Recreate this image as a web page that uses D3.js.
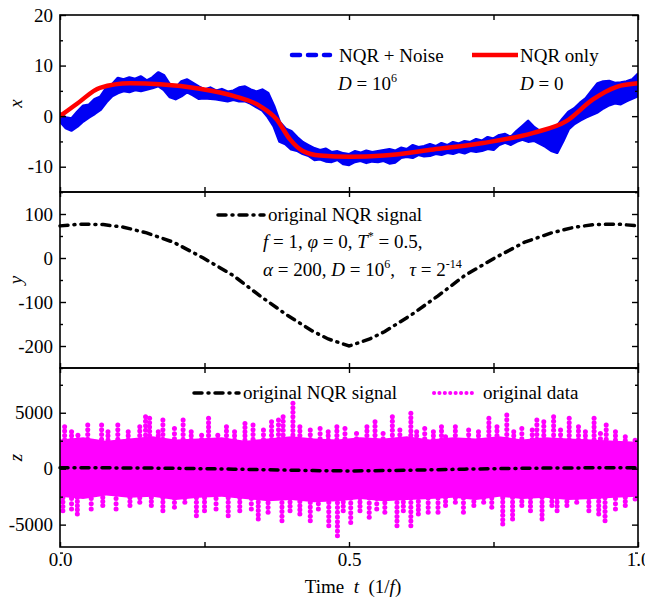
<!DOCTYPE html>
<html>
<head>
<meta charset="utf-8">
<script src="https://cdn.jsdelivr.net/npm/d3@7"></script>
<style>
  body { margin: 0; background: #fff; }
  svg text { font-family: "Liberation Serif", "Times New Roman", serif; font-size: 19px; fill: #000; }
</style>
</head>
<body>
<svg id="chart" width="645" height="601"></svg>
<script>
// x panel: noisy band (upper / lower envelope) and the clean NQR curve
const tBlue  = [0, 0.01, 0.02, 0.03, 0.04, 0.05, 0.06, 0.07, 0.08, 0.09, 0.10, 0.11, 0.12, 0.13, 0.14, 0.15, 0.16, 0.17, 0.18, 0.19,
                0.20, 0.21, 0.22, 0.23, 0.24, 0.25, 0.26, 0.27, 0.28, 0.29, 0.30, 0.31, 0.32, 0.33, 0.34, 0.35, 0.36, 0.37, 0.38, 0.39,
                0.40, 0.41, 0.42, 0.43, 0.44, 0.45, 0.46, 0.47, 0.48, 0.49, 0.50, 0.51, 0.52, 0.53, 0.54, 0.55, 0.56, 0.57, 0.58, 0.59,
                0.60, 0.61, 0.62, 0.63, 0.64, 0.65, 0.66, 0.67, 0.68, 0.69, 0.70, 0.71, 0.72, 0.73, 0.74, 0.75, 0.76, 0.77, 0.78, 0.79,
                0.80, 0.81, 0.82, 0.83, 0.84, 0.85, 0.86, 0.87, 0.88, 0.89, 0.90, 0.91, 0.92, 0.93, 0.94, 0.95, 0.96, 0.97, 0.98, 0.99, 1.0];
const blueHi = [0.5, -0.3, -0.5, 0.8, 2.0, 2.2, 3.3, 3.8, 5.5, 6.2, 7.5, 7.2, 7.6, 7.3, 7.8, 7.0, 7.6, 8.6, 8.0, 6.2,
                5.5, 6.8, 7.2, 6.5, 5.8, 5.2, 5.6, 5.0, 5.3, 4.8, 5.0, 5.6, 5.8, 5.2, 4.8, 5.2, 4.5, 2.0, -1.2, -2.5,
                -3.0, -4.2, -5.2, -5.8, -6.4, -6.8, -6.5, -7.2, -7.0, -7.4, -7.6, -7.0, -7.3, -6.9, -7.2, -7.0, -6.8, -6.6, -6.9, -6.3,
                -6.6, -5.8, -6.2, -6.0, -5.6, -6.0, -5.4, -5.8, -5.2, -5.5, -5.0, -5.2, -4.6, -4.9, -4.2, -4.5, -3.8, -3.6, -4.2, -3.0,
                -2.0, -1.0, -2.2, -3.0, -2.8, -2.5, -2.0, -0.5, 0.8, 1.5, 2.6, 3.5, 5.0, 6.4, 6.8, 6.9, 6.5, 6.6, 6.8, 7.2, 8.3];
const blueLo = [-1.0, -2.3, -2.8, -2.0, -1.0, -0.2, 0.5, 1.3, 2.8, 4.0, 4.6, 5.0, 4.8, 5.2, 5.0, 5.3, 5.6, 6.0, 5.2, 3.8,
                3.4, 4.0, 4.8, 4.2, 3.5, 3.6, 3.5, 3.4, 3.2, 3.0, 3.3, 3.0, 3.0, 2.5, 1.8, 1.2, -0.2, -2.0, -5.0, -5.5,
                -6.5, -6.8, -7.4, -7.8, -8.6, -8.5, -8.9, -9.0, -8.6, -9.4, -9.6, -9.0, -8.8, -9.2, -8.9, -9.0, -8.8, -9.3, -9.1, -8.2,
                -8.0, -8.2, -7.6, -7.9, -7.8, -7.4, -7.6, -7.2, -7.4, -7.0, -7.3, -6.8, -7.0, -6.8, -6.4, -6.6, -5.6, -5.2, -5.6, -5.0,
                -4.6, -5.0, -4.8, -5.4, -6.0, -6.8, -7.2, -5.0, -2.5, -1.5, -0.8, -0.2, 0.3, 0.8, 1.6, 2.2, 2.6, 2.4, 3.0, 3.5, 4.0];
const tRed   = [0, 0.03, 0.069, 0.121, 0.173, 0.242, 0.3, 0.346, 0.375, 0.398, 0.42, 0.45, 0.502, 0.56, 0.646, 0.732, 0.819, 0.876, 0.922, 0.963, 1.0];
const xRed   = [0, 2.5, 5.6, 6.5, 6.3, 5.4, 4.0, 2.0, -0.65, -4.6, -6.9, -7.8, -8.05, -7.8, -6.6, -5.3, -3.3, -1.0, 3.3, 5.8, 6.5];

// y panel: original NQR signal
const tSig = [0, 0.035, 0.075, 0.11, 0.15, 0.196, 0.248, 0.3, 0.346, 0.392, 0.438, 0.464, 0.5, 0.536, 0.562, 0.608, 0.654, 0.7, 0.752, 0.804, 0.85, 0.89, 0.925, 0.965, 1.0];
const ySig = [73, 77, 76, 70, 57, 36, 0, -40, -86, -129, -167, -184, -200, -184, -167, -129, -86, -40, 0, 36, 57, 70, 76, 77, 73];

// z panel: dense data core (ragged edges) and the visible spikes above / below it
const tCore  = [0, 0.04, 0.08, 0.12, 0.16, 0.20, 0.24, 0.28, 0.32, 0.36, 0.40, 0.44, 0.48, 0.52, 0.56, 0.60, 0.64, 0.68, 0.72, 0.76, 0.80, 0.84, 0.88, 0.92, 0.96, 1.0];
const coreHi = [2600, 2800, 2500, 2700, 2900, 2600, 2700, 2800, 2500, 2700, 2900, 2700, 2600, 2800, 2700, 2900, 2600, 2800, 2700, 2900, 2600, 2800, 2700, 2600, 2500, 2400];
const coreLo = [-2500, -2700, -2400, -2600, -2500, -2800, -2600, -2500, -2700, -2900, -2800, -3000, -2900, -2700, -2900, -2800, -2700, -2600, -2800, -2500, -2700, -2600, -2800, -2700, -2600, -2500];
const tUp = [0.008, 0.020, 0.031, 0.048, 0.072, 0.083, 0.100, 0.118, 0.138, 0.148, 0.155, 0.170, 0.178, 0.198, 0.213, 0.227, 0.245, 0.257, 0.273, 0.288, 0.302, 0.320, 0.334,
             0.352, 0.366, 0.378, 0.386, 0.403, 0.415, 0.433, 0.450, 0.464, 0.479, 0.493, 0.513, 0.531, 0.545, 0.559, 0.575, 0.588, 0.607, 0.617, 0.631, 0.646, 0.660,
             0.667, 0.684, 0.707, 0.724, 0.742, 0.756, 0.773, 0.785, 0.799, 0.817, 0.825, 0.837, 0.854, 0.866, 0.881, 0.897, 0.909, 0.924, 0.935, 0.945, 0.961, 0.978, 0.995];
const zUp = [3750, 3300, 3000, 3900, 3900, 3300, 3900, 3300, 3750, 4650, 4500, 3300, 4350, 3600, 4350, 3300, 3000, 4500, 3000, 3750, 3300, 4050, 3900,
             3450, 4200, 4350, 4650, 5850, 3750, 3450, 3600, 3300, 3750, 3600, 3150, 3750, 4200, 3150, 4650, 3450, 4950, 3300, 3600, 3300, 3750,
             2850, 3750, 3450, 3300, 4500, 3750, 4800, 3300, 3600, 3450, 4350, 4200, 4650, 3450, 4500, 3750, 3300, 4500, 3150, 3900, 3300, 2850, 2550];
const tDn = [0.005, 0.020, 0.030, 0.054, 0.074, 0.097, 0.121, 0.138, 0.158, 0.178, 0.198, 0.216, 0.236, 0.250, 0.270, 0.291, 0.311, 0.331,
             0.343, 0.360, 0.384, 0.398, 0.415, 0.433, 0.447, 0.465, 0.480, 0.490, 0.503, 0.519, 0.535, 0.548, 0.562, 0.583, 0.594, 0.607, 0.620, 0.637, 0.654,
             0.667, 0.684, 0.698, 0.716, 0.733, 0.747, 0.766, 0.783, 0.799, 0.814, 0.834, 0.851, 0.860, 0.877, 0.894, 0.915, 0.932, 0.943, 0.961, 0.978, 0.995];
const zDn = [-3760, -3600, -4050, -3600, -3300, -3600, -3300, -3000, -3300, -3760, -3450, -3000, -4200, -3760, -3600, -4200, -3760, -3600,
             -4500, -3900, -4650, -3750, -4050, -4650, -3600, -5100, -6000, -3750, -4800, -3750, -4350, -3600, -3900, -5100, -3750, -5100, -4050, -3900, -3900,
             -3300, -3000, -3900, -3300, -3000, -3450, -4950, -4500, -3300, -3750, -4500, -3300, -3750, -3300, -3000, -3750, -4050, -4650, -3600, -3300, -2700];

// ticks
const xMajor = [0, 0.5, 1], xMinor = [0.25, 0.75];
const ticksTop = [-10, 0, 10, 20], minorTop = [-15, -5, 5, 15];
const ticksMid = [-200, -100, 0, 100], minorMid = [-250, -150, -50, 50, 150];
const ticksBot = [-5000, 0, 5000], minorBot = [-7500, -2500, 2500, 7500];

const svg = d3.select("#chart");
const left = 60, right = 638;
const x = d3.scaleLinear().domain([0, 1]).range([left, right]);
const yTop = d3.scaleLinear().domain([-15, 20]).range([192, 15]);
const yMid = d3.scaleLinear().domain([-250, 150]).range([368, 192]);
const yBot = d3.scaleLinear().domain([-7000, 9000]).range([547, 368]);

const clip = svg.append("defs");
[["cTop", yTop], ["cMid", yMid], ["cBot", yBot]].forEach(([id, s]) => {
    clip.append("clipPath").attr("id", id).append("rect")
        .attr("x", left).attr("y", s.range()[1])
        .attr("width", right - left).attr("height", s.range()[0] - s.range()[1]);
});

// --- top panel: x
{
    const band = d3.area()
        .x((d, i) => x(tBlue[i]))
        .y0((d, i) => yTop(blueLo[i]))
        .y1((d, i) => yTop(blueHi[i]));
    svg.append("path")
        .attr("clip-path", "url(#cTop)")
        .attr("d", band(tBlue))
        .attr("fill", "#0000f5")
        .attr("stroke", "#0000f5")
        .attr("stroke-width", 3)
        .attr("stroke-linejoin", "round");
    const red = d3.line()
        .x((d, i) => x(tRed[i]))
        .y((d, i) => yTop(xRed[i]))
        .curve(d3.curveMonotoneX);
    svg.append("path")
        .attr("clip-path", "url(#cTop)")
        .attr("d", red(tRed))
        .attr("fill", "none")
        .attr("stroke", "#ff0000")
        .attr("stroke-width", 4.5);
}

// --- middle panel: y
const sigLine = s => d3.line()
    .x((d, i) => x(tSig[i]))
    .y((d, i) => s(ySig[i]));
svg.append("path")
    .attr("d", sigLine(yMid)(tSig))
    .attr("fill", "none")
    .attr("stroke", "#000")
    .attr("stroke-width", 3.5)
    .attr("stroke-dasharray", "8,6,1,6")
    .attr("stroke-linecap", "round");

// --- bottom panel: z
{
    const g = svg.append("g").attr("clip-path", "url(#cBot)").attr("fill", "#ff00ff");
    const core = d3.area()
        .x((d, i) => x(tCore[i]))
        .y0((d, i) => yBot(coreLo[i]))
        .y1((d, i) => yBot(coreHi[i]));
    g.append("path").attr("d", core(tCore));
    // dot columns from inside the core out to each spike tip
    const cols = [];
    tUp.forEach((t, i) => cols.push([t, 2200, zUp[i]]));
    tDn.forEach((t, i) => cols.push([t, -2200, zDn[i]]));
    cols.forEach(([t, z0, z1]) => {
        const p0 = yBot(z0), p1 = yBot(z1);
        const n = Math.max(1, Math.round(Math.abs(p1 - p0) / 4.5));
        const pts = d3.range(n + 1).map(k => p0 + (p1 - p0) * k / n);
        g.selectAll(null).data(pts).enter().append("circle")
            .attr("cx", x(t)).attr("cy", d => d).attr("r", 2.5);
    });
    svg.append("path")
        .attr("d", sigLine(yBot)(tSig))
        .attr("fill", "none")
        .attr("stroke", "#000")
        .attr("stroke-width", 3.5)
        .attr("stroke-dasharray", "8,6,1,6")
        .attr("stroke-linecap", "round");
}

// --- axes and frames
function panel(s, major, minor) {
    const [bottom, top] = s.range();
    const fmt = d => String(d);
    svg.append("g").attr("transform", `translate(${left},0)`)
        .call(d3.axisLeft(s).tickValues(major).tickSize(-6).tickPadding(7).tickFormat(fmt));
    svg.append("g").attr("transform", `translate(${left},0)`)
        .call(d3.axisLeft(s).tickValues(minor).tickSize(-3).tickFormat(""));
    svg.append("g").attr("transform", `translate(${right},0)`)
        .call(d3.axisRight(s).tickValues(major).tickSize(-6).tickFormat(""));
    svg.append("g").attr("transform", `translate(${right},0)`)
        .call(d3.axisRight(s).tickValues(minor).tickSize(-3).tickFormat(""));
    svg.append("g").attr("transform", `translate(0,${top})`)
        .call(d3.axisTop(x).tickValues(xMajor.concat(xMinor)).tickSize(-5).tickFormat(""));
    svg.append("g").attr("transform", `translate(0,${bottom})`)
        .call(d3.axisBottom(x).tickValues(xMajor.concat(xMinor)).tickSize(-5).tickFormat(""));
    svg.append("rect")
        .attr("x", left).attr("y", top)
        .attr("width", right - left).attr("height", bottom - top)
        .attr("fill", "none").attr("stroke", "#000").attr("stroke-width", 1.6);
}
panel(yTop, ticksTop, minorTop);
panel(yMid, ticksMid, minorMid);
panel(yBot, ticksBot, minorBot);

// x tick labels
svg.append("g").attr("transform", "translate(0,547)")
    .call(d3.axisBottom(x).tickValues(xMajor).tickSize(0).tickPadding(6).tickFormat(d3.format(".1f")));

svg.selectAll(".domain").remove();
svg.selectAll(".tick line").attr("stroke", "#000").attr("stroke-width", 1.4);
svg.selectAll("g").attr("font-family", null).attr("font-size", null);

// axis titles
[["x", yTop], ["y", yMid], ["z", yBot]].forEach(([lab, s]) => {
    const cy = (s.range()[0] + s.range()[1]) / 2;
    svg.append("text")
        .attr("transform", `translate(22,${cy}) rotate(-90)`)
        .attr("text-anchor", "middle")
        .attr("font-style", "italic")
        .text(lab);
});
{
    const t = svg.append("text").attr("x", 353).attr("y", 593).attr("text-anchor", "middle")
        .attr("xml:space", "preserve");
    t.append("tspan").text("Time  ");
    t.append("tspan").attr("font-style", "italic").text("t");
    t.append("tspan").text("  (1/");
    t.append("tspan").attr("font-style", "italic").text("f");
    t.append("tspan").text(")");
}

// helper for rich text lines
function rich(px, py, parts) {
    const t = svg.append("text").attr("x", px).attr("y", py).attr("xml:space", "preserve");
    parts.forEach(p => {
        const s = t.append("tspan").text(p[0]);
        if (p[1] === "i") s.attr("font-style", "italic");
        if (p[1] === "sup") s.attr("font-size", "12px").attr("dy", -8);
        if (p[2]) s.attr("dy", p[2]);
    });
    return t;
}

// top legend
svg.append("line").attr("x1", 292).attr("x2", 330).attr("y1", 55).attr("y2", 55)
    .attr("stroke", "#0000f5").attr("stroke-width", 4.5)
    .attr("stroke-dasharray", "8,8").attr("stroke-linecap", "round");
svg.append("text").attr("x", 339).attr("y", 62).text("NQR + Noise");
rich(338, 90, [["D", "i"], [" = 10"], ["6", "sup"]]);
svg.append("line").attr("x1", 472).attr("x2", 518).attr("y1", 55).attr("y2", 55)
    .attr("stroke", "#ff0000").attr("stroke-width", 4.5);
svg.append("text").attr("x", 520).attr("y", 62).text("NQR only");
rich(520, 90, [["D", "i"], [" = 0"]]);

// middle legend
svg.append("line").attr("x1", 218).attr("x2", 264).attr("y1", 215).attr("y2", 215)
    .attr("stroke", "#000").attr("stroke-width", 3.5)
    .attr("stroke-dasharray", "8,6,1,6").attr("stroke-linecap", "round");
svg.append("text").attr("x", 268).attr("y", 221).text("original NQR signal");
rich(263, 248, [["f", "i"], [" = 1, "], ["φ", "i"], [" = 0, "], ["T", "i"], ["*", "sup"], [" = 0.5,", null, 8]]);
rich(263, 276, [["α", "i"], [" = 200, "], ["D", "i"], [" = 10"], ["6", "sup"], [",   ", null, 8], ["τ", "i"], [" = 2"], ["-14", "sup"]]);

// bottom legend
svg.append("line").attr("x1", 194).attr("x2", 239).attr("y1", 393).attr("y2", 393)
    .attr("stroke", "#000").attr("stroke-width", 3.5)
    .attr("stroke-dasharray", "8,6,1,6").attr("stroke-linecap", "round");
svg.append("text").attr("x", 243).attr("y", 399).text("original NQR signal");
svg.append("line").attr("x1", 434).attr("x2", 477).attr("y1", 393).attr("y2", 393)
    .attr("stroke", "#ff00ff").attr("stroke-width", 4)
    .attr("stroke-dasharray", "0.1,5.3").attr("stroke-linecap", "round");
svg.append("text").attr("x", 483).attr("y", 399).text("original data");
</script>
</body>
</html>
